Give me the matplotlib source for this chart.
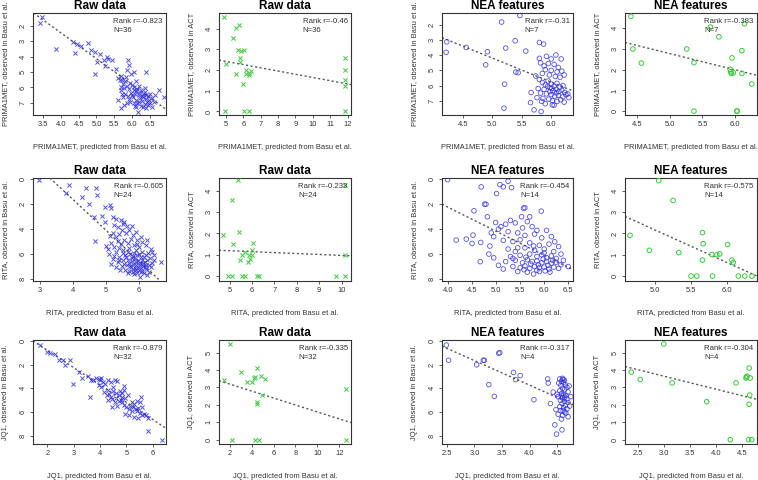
import matplotlib
matplotlib.use("Agg")
import matplotlib.pyplot as plt

plt.rcParams['font.family'] = ['Liberation Sans', 'DejaVu Sans']

# ---------------- data ----------------
drugs = ["PRIMA1MET", "RITA", "JQ1"]
titles = ["Raw data", "Raw data", "NEA features", "NEA features"]
rank_r = [["-0.823", "-0.46", "-0.31", "-0.383"],
          ["-0.605", "-0.233", "-0.454", "-0.575"],
          ["-0.879", "-0.335", "-0.317", "-0.304"]]
n_feat = [["36", "36", "7", "7"],
          ["24", "24", "14", "14"],
          ["32", "32", "4", "4"]]

# Row 1: PRIMA1MET
p1 = [(3.47,1.41),(3.42,1.80),(3.86,3.48),(4.34,3.04),(4.46,3.15),(4.58,3.30),(4.75,3.11),(4.40,3.74),
      (4.85,3.54),(4.96,3.70),(5.10,3.80),(5.30,4.02),(5.33,4.13),(5.44,4.24),(5.01,4.35),(5.20,4.24),
      (4.96,5.10),(5.25,4.63),(5.54,4.78),(5.59,5.37),(5.68,5.28),(5.73,5.54),(5.88,4.24),(5.90,4.57),
      (5.85,4.89),(5.97,5.10),(6.04,5.00),(6.40,5.00),(6.74,6.15),(6.88,6.63),(6.16,7.60),(6.07,7.24),
      (5.75,5.75),(5.80,5.60),(5.85,5.90),(5.78,6.05),(5.70,6.20),(5.95,5.70),(6.00,5.85),(5.90,6.10),
      (6.05,6.00),(6.10,6.25),(6.15,6.10),(6.20,6.35),(6.25,6.20),(6.30,6.40),(6.35,6.30),(6.18,6.50),
      (6.08,6.45),(5.98,6.35),(5.88,6.55),(5.80,6.45),(5.75,6.60),(5.92,6.75),(6.02,6.65),(6.12,6.80),
      (6.22,6.70),(6.28,6.90),(6.38,6.75),(6.42,6.95),(6.48,6.85),(6.50,7.05),(6.45,7.15),(6.35,7.10),
      (6.25,7.20),(6.15,7.00),(6.05,7.05),(5.95,6.95),(5.85,7.00),(5.78,7.15),(6.10,7.30),(6.30,7.30),
      (6.40,7.35),(6.55,6.70),(6.60,6.95),(6.55,7.25),(6.20,6.95),(6.00,6.50),(5.68,5.95),(5.72,6.40),
      (6.45,6.55),(6.30,6.60),(5.65,5.50),(5.82,5.35),(6.10,5.60),(6.20,5.90),(6.35,6.05),(6.50,6.40),
      (5.60,6.80),(5.70,7.35),(6.65,6.50),(6.05,6.20),(6.27,6.55),(6.40,6.50)]
p2 = [(4.90,4.58),(5.00,2.29),(4.96,0.00),(5.38,3.55),(5.58,4.03),(5.73,4.19),(5.67,2.97),(5.87,2.92),
      (6.06,2.97),(5.81,2.56),(5.81,2.37),(5.58,1.82),(6.15,2.02),(6.15,1.82),(6.31,1.86),(6.44,1.93),
      (6.35,1.77),(5.96,1.31),(6.06,0.00),(6.31,0.00),(11.87,2.56),(11.87,2.02),(11.87,1.53),
      (11.87,1.22),(11.87,0.00)]
p3 = [(4.23,3.11),(4.22,3.80),(4.56,3.48),(4.92,3.76),(4.89,4.63),(5.16,1.80),(5.47,1.37),(5.23,3.52),
      (5.39,3.04),(5.57,3.72),(5.40,5.11),(5.44,5.15),(5.21,5.91),(5.20,7.50),(5.80,3.15),(5.87,3.26),
      (5.80,4.20),(5.92,4.07),(6.00,4.24),(6.08,3.98),(6.17,4.24),(5.74,5.37),(5.66,6.46),(5.65,7.13),
      (5.71,7.61),(5.83,7.72),(6.02,7.28),
      (5.82,4.50),(5.88,4.70),(5.95,4.55),(6.05,4.60),(6.12,4.80),(5.90,4.95),(6.00,5.00),(6.10,5.10),
      (6.18,5.05),(5.85,5.20),(5.97,5.30),(6.07,5.40),(6.15,5.45),(6.22,5.30),
      (5.80,5.60),(5.85,5.80),(5.90,5.95),(5.95,5.70),(6.00,5.90),(6.05,6.05),(6.10,5.85),(6.15,6.10),
      (6.20,6.00),(5.78,6.20),(5.88,6.25),(5.98,6.15),(6.03,6.35),(6.08,6.25),(6.13,6.40),(6.18,6.30),
      (6.23,6.45),(5.82,6.50),(5.92,6.55),(6.00,6.60),(6.06,6.70),(6.12,6.65),(6.20,6.75),(6.25,6.60),
      (5.86,6.85),(5.96,6.90),(6.02,7.00),(6.10,7.05),(6.16,6.95),(6.22,7.10),(5.90,7.20),(6.05,7.30),
      (5.76,6.80),(5.98,6.40),(6.09,6.48),(5.94,6.05),(6.01,6.20),(6.28,6.55),(6.30,6.80),(5.84,7.05)]
p4 = [(4.41,4.58),(4.44,3.00),(4.57,2.32),(5.26,3.00),(5.37,2.34),(5.37,0.00),(5.62,4.06),(5.75,3.59),
      (6.14,4.22),(6.10,2.92),(5.95,2.57),(5.92,2.02),(5.93,1.90),(5.94,1.82),(5.97,1.86),(6.10,1.82),
      (6.25,1.31),(6.02,0.00),(6.03,0.00)]

# Row 2: RITA
p5 = [(2.98,0.08),(3.79,1.09),(3.90,0.43),(4.27,1.41),(4.40,0.67),(4.71,0.67),(4.73,1.28),(4.48,2.00),
      (4.63,3.01),(4.88,2.96),(4.98,2.21),(5.12,2.03),(5.16,2.27),(4.98,3.41),(4.68,4.96),(5.01,5.33),
      (6.66,6.67),(6.03,7.81),
      (5.20,3.00),(5.30,3.20),(5.45,3.30),(5.55,3.45),(5.25,3.70),(5.35,3.85),(5.50,3.60),(5.62,3.75),
      (5.78,3.75),(5.90,4.20),(5.70,4.05),(5.48,4.10),(5.22,4.30),(5.12,4.55),(5.30,4.60),(5.40,4.40),
      (5.60,4.35),(5.82,4.50),(6.05,4.60),(6.25,4.85),(6.10,5.00),(5.95,4.90),(5.75,4.80),(5.55,4.85),
      (5.35,4.95),(5.15,5.10),(5.05,5.60),(5.25,5.40),(5.45,5.20),(5.65,5.15),(5.85,5.30),(6.00,5.45),
      (6.20,5.30),(6.35,5.60),(5.10,6.00),(5.30,5.80),(5.50,5.65),(5.70,5.55),(5.90,5.70),(6.10,5.80),
      (6.28,5.95),(6.45,6.05),(5.20,6.40),(5.40,6.20),(5.58,6.05),(5.72,6.00),(5.82,6.15),(5.95,6.10),
      (6.05,6.25),(6.15,6.20),(6.32,6.35),(5.15,6.80),(5.35,6.65),(5.52,6.50),(5.65,6.45),(5.78,6.55),
      (5.88,6.40),(5.98,6.55),(6.08,6.50),(6.18,6.60),(6.25,6.45),(6.40,6.70),(5.30,7.05),(5.48,6.95),
      (5.62,6.85),(5.72,6.95),(5.82,6.80),(5.92,6.90),(6.02,6.85),(6.12,6.95),(6.22,6.90),(6.35,7.05),
      (5.42,7.30),(5.58,7.25),(5.70,7.35),(5.80,7.20),(5.90,7.30),(6.00,7.25),(6.10,7.35),(6.20,7.20),
      (6.30,7.40),(5.65,7.55),(5.85,7.60),(5.95,7.50),(6.15,7.55),(6.25,7.65),(5.75,7.05),(5.87,7.10),
      (5.97,7.00),(6.07,7.10),(5.60,6.20),(5.68,6.70),(5.92,6.65),(6.02,6.70),(6.12,6.75),(5.78,6.30),
      (5.55,6.80),(5.85,5.90),(6.00,6.00),(6.22,6.10),(5.50,5.95),(5.40,6.50),(5.25,6.15),(6.45,6.45),
      (6.38,5.85),(6.30,6.85),(5.80,7.45),(6.05,7.45),(6.18,7.05),(5.65,5.85),(5.95,5.20),(5.38,5.50)]
p6 = [(5.38,4.49),(5.12,3.55),(4.70,1.95),(5.15,1.50),(5.42,2.07),(4.92,0.00),(5.12,0.00),(5.53,0.00),
      (5.68,0.00),(6.20,0.00),(6.31,0.00),(5.45,0.75),(5.53,0.98),(5.68,1.11),(5.83,0.67),(5.90,0.79),
      (5.87,1.01),(5.98,1.21),(5.98,1.01),(6.05,1.56),(9.74,0.00),(10.15,0.00),(10.15,0.98),(10.15,4.25)]
p7 = [(3.99,0.03),(4.69,0.61),(4.76,2.00),(4.79,2.00),(4.54,2.53),(4.82,3.01),(4.99,3.47),(4.52,4.48),
      (4.50,5.15),(4.68,5.07),(4.87,5.36),(4.67,6.61),(4.38,4.80),(4.17,4.88),(5.01,1.15),(5.08,0.43),
      (5.15,0.61),(5.25,0.16),(5.32,0.67),(5.60,2.29),(5.57,2.32),(5.94,2.56),(5.70,3.01),(5.53,3.01),
      (6.50,7.00),(6.22,5.01),(4.90,4.30),(4.95,4.60),(5.05,4.00),(5.10,3.80),(4.85,6.00),(4.95,6.30),
      (5.05,6.90),(5.15,7.20),
      (5.20,3.60),(5.30,3.30),(5.40,3.50),(5.55,3.90),(5.65,3.40),(5.75,3.80),(5.85,4.10),(6.05,4.10),
      (5.25,4.20),(5.45,4.30),(5.60,4.50),(5.80,4.40),(5.95,4.70),(6.15,4.60),(5.15,4.90),(5.35,5.00),
      (5.50,4.85),(5.70,5.10),(5.90,5.30),(6.10,5.20),(6.30,5.40),(5.25,5.60),(5.40,5.80),(5.60,5.50),
      (5.80,5.70),(6.00,5.60),(6.20,5.80),(6.35,6.00),(5.30,6.20),(5.50,6.10),(5.70,6.00),(5.85,6.20),
      (5.95,6.05),(6.05,6.30),(6.15,6.15),(6.25,6.35),(5.20,6.60),(5.40,6.50),(5.55,6.70),(5.65,6.45),
      (5.75,6.60),(5.85,6.55),(5.95,6.70),(6.05,6.60),(6.15,6.75),(6.25,6.65),(6.35,6.85),(5.35,7.00),
      (5.50,7.10),(5.60,6.95),(5.70,7.15),(5.80,7.00),(5.90,7.10),(6.00,7.05),(6.10,7.20),(6.20,7.05),
      (6.30,7.15),(5.45,7.40),(5.65,7.45),(5.78,7.60),(5.90,7.40),(6.02,7.35),(6.12,7.45),(5.72,6.80),
      (5.88,6.85),(5.98,6.40),(6.08,6.90),(5.62,6.25),(5.45,5.50),(5.78,5.35),(6.18,6.50),(5.58,7.25),
      (5.85,7.30),(6.40,6.50),(5.35,6.35),(6.00,5.90)]
p8 = [(5.05,4.48),(5.25,3.55),(4.65,1.91),(4.92,1.21),(5.33,1.10),(5.50,0.00),(5.58,0.00),(5.80,0.00),
      (5.66,2.04),(5.67,1.52),(5.66,0.75),(5.79,1.01),(5.86,1.01),(5.90,1.04),(6.01,1.48),(6.07,0.75),
      (6.09,0.64),(6.16,0.00),(6.25,0.00),(6.35,0.00)]

# Row 3: JQ1
p9 = [(1.72,0.33),(2.00,0.92),(2.10,1.03),(2.29,1.06),(2.46,1.59),(2.59,1.62),(2.68,2.00),(2.87,1.59),
      (2.97,3.62),(3.21,2.59),(3.31,3.12),(3.54,2.92),(3.63,4.74),(5.83,7.58),(6.34,8.36),
      (3.65,3.30),(3.72,3.28),(3.85,3.15),(3.95,3.20),(4.05,3.10),(4.00,3.25),(4.10,3.45),(3.95,3.70),
      (4.05,3.85),(4.20,3.65),(4.30,3.30),(4.40,3.50),(4.55,3.30),(4.65,3.40),(4.50,3.90),(4.30,4.10),
      (4.15,4.30),(4.35,4.45),(4.50,4.25),(4.60,4.40),(4.70,4.55),(4.85,4.40),(4.90,3.80),(4.92,4.10),
      (4.85,4.70),(4.60,4.80),(4.45,4.90),(4.30,5.00),(4.55,5.20),(4.70,5.05),(4.80,5.00),(4.95,4.85),
      (5.05,4.60),(5.20,5.20),(5.30,5.30),(5.40,5.10),(5.50,5.20),(5.55,4.75),(4.45,5.60),(4.65,5.50),
      (4.90,5.40),(5.00,5.60),(5.10,5.75),(5.25,5.55),(5.35,5.75),(5.45,5.65),(5.60,5.60),(4.95,6.20),
      (5.10,6.30),(5.30,6.40),(5.45,6.50),(5.65,6.20),(5.75,6.30),(5.80,6.50),(5.50,6.05),(5.20,5.90),
      (4.75,4.20),(4.40,4.70),(4.25,4.55),(4.85,5.20),(5.15,5.50),(5.40,5.95),(5.60,6.30)]
p10 = [(2.00,5.49),(1.48,3.45),(2.24,0.00),(3.07,3.88),(3.62,3.30),(3.99,3.30),(4.23,3.54),(4.35,3.58),
       (4.51,4.11),(4.81,3.64),(5.21,3.48),(4.45,2.18),(4.45,2.03),(4.91,2.56),(4.29,0.00),(4.69,0.00),
       (12.61,2.92),(12.61,0.00)]
p11 = [(2.49,0.33),(2.53,1.62),(3.04,2.00),(3.16,1.62),(3.18,1.62),(3.26,3.68),(3.36,4.68),(3.44,1.03),
       (3.46,0.97),(3.71,2.65),(3.75,3.26),(3.83,2.92),(4.08,4.96),(4.33,3.20),(4.34,3.55),(4.38,5.29),
       (4.43,4.32),(4.46,7.10),(4.49,7.88),(4.59,7.52),(4.70,6.41),
       (4.55,3.20),(4.60,3.15),(4.63,3.30),(4.58,3.40),(4.62,3.50),(4.65,3.70),(4.57,3.75),(4.68,3.90),
       (4.60,4.00),(4.55,4.20),(4.64,4.10),(4.70,4.30),(4.58,4.45),(4.62,4.55),(4.66,4.60),(4.52,4.70),
       (4.60,4.80),(4.68,4.90),(4.56,5.00),(4.63,5.10),(4.70,5.20),(4.59,5.30),(4.65,5.45),(4.55,5.55),
       (4.62,5.65),(4.68,5.75),(4.57,5.90),(4.64,6.00),(4.52,6.20),(4.60,6.30),(4.66,6.10),(4.75,4.70),
       (4.73,5.50),(4.50,4.50),(4.48,5.80),(4.61,3.25),(4.59,4.65),(4.64,4.75),(4.61,5.90),(4.58,6.60),
       (4.72,3.80),(4.53,3.55)]
p12 = [(2.38,3.88),(2.55,3.45),(3.00,5.49),(3.16,3.26),(3.82,2.18),(4.38,3.26),(4.27,0.00),(4.57,3.54),
       (4.59,3.64),(4.58,3.60),(4.63,4.11),(4.65,3.54),(4.64,2.56),(4.63,2.03),(4.62,0.00),(4.68,0.00)]

panels = [[p1, p2, p3, p4], [p5, p6, p7, p8], [p9, p10, p11, p12]]

# regression line (intercept, slope)
fits = [[(-4.32, 1.69), (3.19, -0.155), (-3.77, 1.59), (6.73, -0.79)],
        [(-8.31, 2.48), (1.41, -0.044), (-5.48, 1.93), (9.76, -1.52)],
        [(-2.17, 1.47), (3.59, -0.20), (-4.59, 2.08), (5.895, -0.75)]]

xticks = [[[3.5,4.0,4.5,5.0,5.5,6.0,6.5], [5,6,7,8,9,10,11,12], [4.5,5.0,5.5,6.0], [4.5,5.0,5.5,6.0]],
          [[3,4,5,6], [5,6,7,8,9,10], [4.0,4.5,5.0,5.5,6.0,6.5], [5.0,5.5,6.0]],
          [[2,3,4,5,6], [2,4,6,8,10,12], [2.5,3.0,3.5,4.0,4.5], [2.5,3.0,3.5,4.0,4.5]]]
xticklabels = [[["3.5","4.0","4.5","5.0","5.5","6.0","6.5"], ["5","6","7","8","9","10","11","12"],
                ["4.5","5.0","5.5","6.0"], ["4.5","5.0","5.5","6.0"]],
               [["3","4","5","6"], ["5","6","7","8","9","10"], ["4.0","4.5","5.0","5.5","6.0","6.5"],
                ["5.0","5.5","6.0"]],
               [["2","3","4","5","6"], ["2","4","6","8","10","12"], ["2.5","3.0","3.5","4.0","4.5"],
                ["2.5","3.0","3.5","4.0","4.5"]]]
yticks = [[[2,3,4,5,6,7], [0,1,2,3,4], [2,3,4,5,6,7], [0,1,2,3,4]],
          [[0,2,4,6,8], [0,1,2,3,4], [0,2,4,6,8], [0,1,2,3,4]],
          [[0,2,4,6,8], [0,1,2,3,4,5], [0,2,4,6,8], [0,1,2,3,4,5]]]

xlims = [[(3.22, 6.95), (4.60, 12.20), (4.15, 6.37), (4.32, 6.33)],
         [(2.80, 6.81), (4.52, 10.42), (3.875, 6.60), (4.58, 6.42)],
         [(1.46, 6.50), (1.02, 13.07), (2.41, 4.79), (2.26, 4.78)]]
ylims = [[(7.80, 1.15), (-0.17, 4.75), (7.95, 1.20), (-0.19, 4.74)],
         [(8.16, -0.10), (-0.23, 4.60), (8.16, -0.10), (-0.23, 4.60)],
         [(8.72, -0.10), (-0.25, 5.72), (8.72, -0.10), (-0.25, 5.72)]]

# ---------------- styling ----------------
BLUE = '#2a2ae0'
GREEN = '#3ccc3c'
TXT = '#333333'

fig = plt.figure(figsize=(7.58, 4.80), dpi=100)
W, H = 758.0, 480.0
col_px = [(33, 166), (219, 351), (442, 573), (625, 757)]
row_px = [(13, 115), (178, 281), (340, 444)]

for r in range(3):
    for c in range(4):
        x0, x1 = col_px[c]
        t, b = row_px[r]
        ax = fig.add_axes([x0 / W, 1 - b / H, (x1 - x0) / W, (b - t) / H])
        pts = panels[r][c]
        xs = [p[0] for p in pts]
        ys = [p[1] for p in pts]
        if c == 0:
            ax.scatter(xs, ys, marker='x', s=9, linewidths=0.7, color=BLUE, alpha=0.8, zorder=3)
        elif c == 1:
            ax.scatter(xs, ys, marker='x', s=9, linewidths=0.7, color=GREEN, zorder=3)
        elif c == 2:
            ax.scatter(xs, ys, marker='o', s=11, facecolors='none', edgecolors=BLUE,
                       linewidths=0.6, alpha=0.8, zorder=3)
        else:
            ax.scatter(xs, ys, marker='o', s=11, facecolors='none', edgecolors=GREEN,
                       linewidths=0.7, zorder=3)
        a, s = fits[r][c]
        ax.axline((0, a), slope=s, color='#555555', linestyle=(0, (1.5, 1.8)), linewidth=1.0, zorder=2)
        ax.set_xlim(*xlims[r][c])
        ax.set_ylim(*ylims[r][c])
        ax.set_xticks(xticks[r][c])
        ax.set_xticklabels(xticklabels[r][c])
        ax.set_yticks(yticks[r][c])
        ax.set_yticklabels([str(v) for v in yticks[r][c]], rotation=90, va='center')
        ax.tick_params(axis='both', labelsize=5.4, length=2.5, width=0.6, pad=2,
                       colors='#444444', labelcolor=TXT)
        for sp in ax.spines.values():
            sp.set_linewidth(0.8)
            sp.set_color('#333333')
        ax.set_title(titles[c], fontsize=8.5, fontweight='bold', pad=3)
        ax.set_xlabel(drugs[r] + ", predicted from Basu et al.", fontsize=5.4, color=TXT, labelpad=11)
        ylab = drugs[r] + (", observed in Basu et al." if c in (0, 2) else ", observed in ACT")
        ax.set_ylabel(ylab, fontsize=5.4, color=TXT, labelpad=8)
        ax.text(0.975, 0.95, "Rank r=" + rank_r[r][c] + "\nN=" + n_feat[r][c],
                transform=ax.transAxes, ha='right', va='top', multialignment='left',
                fontsize=5.6, color=TXT, linespacing=1.4)

fig.savefig('out.png', dpi=100)
